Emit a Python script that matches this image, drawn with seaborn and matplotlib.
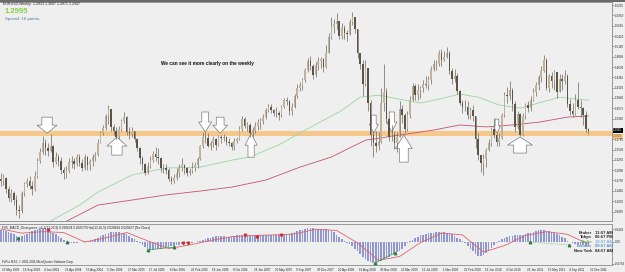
import matplotlib
matplotlib.use("Agg")
import matplotlib.pyplot as plt
import matplotlib.dates as mdates
from matplotlib.patches import Polygon, Rectangle
import pandas as pd
import seaborn as sns

# ---- values (drawn as two-week bars) ----
first_bar = "2003-05-18"
first_open = 1.178

bar_close = [
    1.172, 1.180, 1.150, 1.128, 1.140, 1.124, 1.098, 1.094, 1.140, 1.165,
    1.172, 1.160, 1.150, 1.185, 1.224, 1.245, 1.270, 1.255, 1.248, 1.262,
    1.220, 1.232, 1.222, 1.200, 1.192, 1.198, 1.220, 1.222, 1.214, 1.232,
    1.218, 1.205, 1.232, 1.212, 1.222, 1.232, 1.238, 1.270, 1.294, 1.306,
    1.338, 1.356, 1.310, 1.300, 1.285, 1.305, 1.325, 1.335, 1.298, 1.292,
    1.300, 1.280, 1.255, 1.230, 1.215, 1.192, 1.210, 1.225, 1.240, 1.232,
    1.230, 1.205, 1.206, 1.200, 1.178, 1.172, 1.180, 1.192, 1.206, 1.212,
    1.205, 1.192, 1.198, 1.205, 1.212, 1.228, 1.260, 1.285, 1.282, 1.262,
    1.268, 1.280, 1.265, 1.284, 1.282, 1.285, 1.272, 1.268, 1.258, 1.275,
    1.280, 1.305, 1.330, 1.312, 1.316, 1.294, 1.302, 1.312, 1.322, 1.325,
    1.335, 1.352, 1.362, 1.352, 1.345, 1.345, 1.340, 1.360, 1.380, 1.375,
    1.350, 1.362, 1.390, 1.410, 1.418, 1.430, 1.455, 1.478, 1.465, 1.442,
    1.468, 1.478, 1.484, 1.462, 1.500, 1.540, 1.565, 1.572, 1.580, 1.542,
    1.562, 1.550, 1.548, 1.578, 1.590, 1.560, 1.500, 1.470, 1.420, 1.460,
    1.372, 1.290, 1.270, 1.262, 1.272, 1.370, 1.400, 1.330, 1.285, 1.290,
    1.268, 1.285, 1.356, 1.340, 1.305, 1.340, 1.380, 1.415, 1.392, 1.405,
    1.410, 1.420, 1.418, 1.430, 1.458, 1.470, 1.470, 1.500, 1.480, 1.490,
    1.500, 1.452, 1.432, 1.440, 1.402, 1.370, 1.360, 1.362, 1.340, 1.352,
    1.338, 1.280, 1.238, 1.218, 1.228, 1.252, 1.270, 1.305, 1.290, 1.272,
    1.282, 1.340, 1.392, 1.390, 1.404, 1.368, 1.310, 1.342, 1.290, 1.338,
    1.365, 1.358, 1.378, 1.400, 1.418, 1.438, 1.452, 1.482, 1.410, 1.440,
    1.428, 1.450, 1.400, 1.432, 1.428, 1.440, 1.368, 1.350, 1.342, 1.380,
    1.360, 1.358, 1.340, 1.304, 1.2995,
]
bar_high = [
    1.193, 1.190, 1.183, 1.158, 1.150, 1.145, 1.135, 1.110, 1.146, 1.170,
    1.180, 1.185, 1.172, 1.196, 1.230, 1.256, 1.288, 1.278, 1.270, 1.293,
    1.265, 1.245, 1.240, 1.232, 1.208, 1.210, 1.230, 1.235, 1.230, 1.240,
    1.242, 1.228, 1.240, 1.236, 1.228, 1.240, 1.246, 1.280, 1.300, 1.315,
    1.343, 1.367, 1.357, 1.318, 1.310, 1.312, 1.330, 1.348, 1.338, 1.310,
    1.310, 1.300, 1.282, 1.258, 1.235, 1.218, 1.220, 1.235, 1.248, 1.258,
    1.255, 1.232, 1.215, 1.215, 1.205, 1.185, 1.190, 1.204, 1.216, 1.230,
    1.215, 1.208, 1.205, 1.220, 1.220, 1.234, 1.265, 1.297, 1.298, 1.295,
    1.275, 1.287, 1.282, 1.290, 1.290, 1.292, 1.288, 1.282, 1.272, 1.282,
    1.285, 1.312, 1.337, 1.336, 1.322, 1.320, 1.310, 1.322, 1.330, 1.332,
    1.342, 1.358, 1.368, 1.368, 1.355, 1.360, 1.350, 1.366, 1.385, 1.386,
    1.380, 1.372, 1.395, 1.420, 1.426, 1.435, 1.460, 1.485, 1.492, 1.472,
    1.476, 1.490, 1.490, 1.485, 1.520, 1.550, 1.590, 1.585, 1.601, 1.582,
    1.575, 1.570, 1.558, 1.585, 1.604, 1.590, 1.560, 1.500, 1.480, 1.480,
    1.460, 1.380, 1.300, 1.300, 1.298, 1.410, 1.472, 1.410, 1.335, 1.315,
    1.300, 1.298, 1.375, 1.365, 1.345, 1.350, 1.390, 1.423, 1.420, 1.420,
    1.415, 1.430, 1.440, 1.440, 1.466, 1.480, 1.480, 1.506, 1.508, 1.505,
    1.514, 1.505, 1.460, 1.458, 1.448, 1.405, 1.380, 1.378, 1.375, 1.360,
    1.365, 1.338, 1.295, 1.238, 1.240, 1.255, 1.280, 1.310, 1.333, 1.295,
    1.295, 1.345, 1.400, 1.412, 1.428, 1.410, 1.375, 1.350, 1.345, 1.345,
    1.372, 1.375, 1.388, 1.410, 1.425, 1.442, 1.465, 1.494, 1.485, 1.446,
    1.450, 1.455, 1.450, 1.446, 1.445, 1.455, 1.446, 1.382, 1.370, 1.395,
    1.425, 1.380, 1.362, 1.350, 1.307,
]
bar_low = [
    1.160, 1.162, 1.140, 1.120, 1.118, 1.110, 1.084, 1.077, 1.090, 1.134,
    1.156, 1.152, 1.136, 1.146, 1.180, 1.217, 1.240, 1.238, 1.235, 1.245,
    1.208, 1.215, 1.210, 1.190, 1.176, 1.180, 1.192, 1.205, 1.202, 1.210,
    1.210, 1.196, 1.200, 1.200, 1.200, 1.210, 1.222, 1.236, 1.268, 1.290,
    1.302, 1.318, 1.300, 1.290, 1.278, 1.280, 1.300, 1.320, 1.290, 1.279,
    1.285, 1.272, 1.248, 1.215, 1.200, 1.186, 1.190, 1.204, 1.220, 1.222,
    1.215, 1.195, 1.191, 1.190, 1.172, 1.164, 1.166, 1.175, 1.182, 1.198,
    1.190, 1.185, 1.186, 1.192, 1.198, 1.204, 1.225, 1.256, 1.270, 1.258,
    1.250, 1.258, 1.252, 1.262, 1.270, 1.275, 1.264, 1.262, 1.250, 1.252,
    1.268, 1.276, 1.300, 1.306, 1.300, 1.285, 1.284, 1.295, 1.302, 1.305,
    1.318, 1.330, 1.348, 1.345, 1.338, 1.335, 1.327, 1.336, 1.358, 1.365,
    1.340, 1.340, 1.358, 1.385, 1.402, 1.405, 1.425, 1.450, 1.455, 1.432,
    1.438, 1.455, 1.460, 1.450, 1.460, 1.498, 1.535, 1.550, 1.560, 1.535,
    1.535, 1.535, 1.530, 1.545, 1.570, 1.550, 1.485, 1.458, 1.390, 1.415,
    1.350, 1.260, 1.233, 1.245, 1.252, 1.270, 1.350, 1.320, 1.275, 1.275,
    1.253, 1.246, 1.285, 1.320, 1.295, 1.300, 1.332, 1.375, 1.380, 1.380,
    1.385, 1.400, 1.410, 1.405, 1.420, 1.452, 1.455, 1.465, 1.465, 1.478,
    1.485, 1.445, 1.420, 1.424, 1.395, 1.365, 1.345, 1.350, 1.330, 1.331,
    1.325, 1.255, 1.226, 1.195, 1.188, 1.208, 1.248, 1.262, 1.282, 1.262,
    1.262, 1.278, 1.335, 1.372, 1.378, 1.350, 1.297, 1.305, 1.287, 1.287,
    1.330, 1.348, 1.350, 1.375, 1.390, 1.405, 1.425, 1.450, 1.404, 1.400,
    1.410, 1.405, 1.384, 1.400, 1.404, 1.420, 1.360, 1.340, 1.336, 1.340,
    1.355, 1.335, 1.315, 1.296, 1.292,
]

# moving averages (bar index -> value), read at a few points along each curve
ma_fast_bar = [14, 20, 30, 37, 50, 63, 76, 88, 95, 106, 114, 121, 129, 137,
               144, 152, 160, 167, 175, 182, 190, 198, 205, 213, 224]
ma_fast = [1.045, 1.073, 1.110, 1.143, 1.187, 1.205, 1.207, 1.225, 1.233, 1.264,
           1.294, 1.320, 1.348, 1.386, 1.391, 1.381, 1.371, 1.381, 1.394, 1.386,
           1.366, 1.358, 1.371, 1.386, 1.378]
ma_slow_bar = [22, 26, 37, 50, 63, 76, 88, 101, 114, 126, 139, 152, 165, 175,
               185, 195, 205, 216, 224]
ma_slow = [1.060, 1.072, 1.110, 1.123, 1.136, 1.146, 1.156, 1.174, 1.207, 1.233,
           1.276, 1.289, 1.302, 1.315, 1.310, 1.315, 1.322, 1.335, 1.338]

# MACD histogram, one value per bar
macd_main = [
    0.041, 0.039, 0.037, 0.034, 0.031, 0.026, 0.020, 0.017, 0.019, 0.023,
    0.027, 0.032, 0.036, 0.039, 0.042, 0.045, 0.047, 0.046, 0.043, 0.038,
    0.032, 0.026, 0.020, 0.014, 0.006, 0.001, -0.002, -0.003, -0.003, -0.002,
    0.000, 0.001, 0.002, 0.003, 0.005, 0.008, 0.011, 0.015, 0.019, 0.024,
    0.028, 0.031, 0.033, 0.034, 0.034, 0.033, 0.032, 0.030, 0.027, 0.021,
    0.014, 0.009, 0.004, -0.004, -0.011, -0.018, -0.024, -0.027, -0.027, -0.025,
    -0.024, -0.022, -0.020, -0.018, -0.017, -0.015, -0.013, -0.011, -0.010, -0.008,
    -0.007, -0.005, -0.004, -0.002, 0.000, 0.002, 0.004, 0.007, 0.010, 0.013,
    0.015, 0.017, 0.019, 0.020, 0.020, 0.019, 0.018, 0.017, 0.018, 0.020,
    0.022, 0.024, 0.024, 0.022, 0.021, 0.020, 0.021, 0.022, 0.023, 0.024,
    0.024, 0.024, 0.024, 0.024, 0.024, 0.024, 0.025, 0.025, 0.026, 0.026,
    0.027, 0.029, 0.033, 0.036, 0.039, 0.042, 0.045, 0.046, 0.047, 0.046,
    0.045, 0.044, 0.044, 0.044, 0.044, 0.042, 0.038, 0.033, 0.025, 0.017,
    0.009, 0.002, -0.002, -0.008, -0.015, -0.022, -0.030, -0.040, -0.050, -0.058,
    -0.064, -0.068, -0.071, -0.071, -0.068, -0.064, -0.059, -0.054, -0.049, -0.044,
    -0.039, -0.035, -0.030, -0.022, -0.014, -0.005, 0.002, 0.008, 0.013, 0.018,
    0.022, 0.025, 0.027, 0.029, 0.031, 0.032, 0.033, 0.034, 0.034, 0.033,
    0.032, 0.030, 0.026, 0.020, 0.015, 0.010, 0.004, -0.004, -0.012, -0.022,
    -0.031, -0.040, -0.046, -0.048, -0.044, -0.037, -0.030, -0.020, -0.010, -0.002,
    0.004, 0.009, 0.013, 0.016, 0.019, 0.021, 0.023, 0.024, 0.024, 0.025,
    0.027, 0.029, 0.031, 0.034, 0.038, 0.040, 0.041, 0.040, 0.038, 0.036,
    0.033, 0.030, 0.027, 0.024, 0.018, 0.012, 0.005, 0.000, -0.004, -0.007,
    -0.009, -0.010, -0.011, -0.013, -0.014,
]
signal_bar = [0, 8, 16, 24, 32, 40, 48, 56, 64, 72, 80, 88, 96, 104, 112,
              120, 128, 136, 144, 152, 160, 168, 176, 184, 192, 200, 208, 216, 224]
signal = [0.044, 0.030, 0.035, 0.032, 0.000, 0.014, 0.032, 0.004, -0.022, -0.010,
          0.005, 0.018, 0.022, 0.024, 0.027, 0.043, 0.039, -0.003, -0.062, -0.049,
          -0.002, 0.030, 0.024, -0.034, -0.012, 0.022, 0.035, 0.026, -0.007]

# divergence marks in the MACD window
div_red_date = ["2004-01-25", "2006-01-15", "2006-02-12", "2006-12-10", "2007-02-11", "2007-06-24"]
div_red_val = [0.041, -0.003, -0.003, 0.024, 0.017, 0.024]
div_green_date = ["2003-08-18", "2004-05-03", "2005-07-10", "2005-11-26",
                  "2008-11-03", "2009-02-18", "2011-02-07", "2011-09-08"]
div_green_val = [0.014, 0.000, -0.027, -0.017, -0.071, -0.037, 0.000, -0.010]

# horizontal support / resistance zone and last price
zone_low, zone_high = 1.2880, 1.2990
last_price = 1.2995

# hand drawn arrows: date and price of the tip
arrow_down_date = ["2004-01-20", "2006-05-13", "2006-08-01", "2008-10-29", "2009-02-02", "2010-08-17"]
arrow_down_tip = [1.294, 1.297, 1.294, 1.294, 1.297, 1.294]
arrow_up_date = ["2005-01-27", "2007-01-13", "2009-04-07", "2010-12-18"]
arrow_up_tip = [1.284, 1.294, 1.289, 1.284]

price_ticks = [1.6215, 1.5950, 1.5685, 1.5420, 1.5160, 1.4895, 1.4630, 1.4365, 1.4100,
               1.3840, 1.3575, 1.3310, 1.2785, 1.2520, 1.2255, 1.1990, 1.1730, 1.1465,
               1.1200, 1.0935]
date_ticks = ["2003-05-25", "2003-09-14", "2004-01-04", "2004-04-25", "2004-08-15",
              "2004-12-05", "2005-03-27", "2005-07-17", "2005-11-06", "2006-02-26",
              "2006-06-18", "2006-10-08", "2007-01-28", "2007-05-20", "2007-09-09",
              "2007-12-30", "2008-04-20", "2008-08-10", "2008-11-30", "2009-03-22",
              "2009-07-12", "2009-11-01", "2010-02-21", "2010-06-13", "2010-10-03",
              "2011-01-23", "2011-05-15", "2011-09-04", "2011-12-25"]

clock_names = ["Broker", "Tokyo", "Berlin", "London", "New York"]
clock_times = ["11:57 AM", "06:57 PM", "10:57 AM", "09:57 AM", "04:57 AM"]

# ---- drawing ----
sns.set_style("white")
plt.rcParams["font.family"] = ["Liberation Sans", "DejaVu Sans"]

W, H = 625, 272
BG = "#efefef"
fig = plt.figure(figsize=(W / 100, H / 100), dpi=100, facecolor=BG)


def fx(x):
    return x / W


def fy(y):
    return 1 - y / H


ax = fig.add_axes([0, fy(221), fx(612), (221 - 2) / H], facecolor=BG)
ax2 = fig.add_axes([0, fy(265), fx(612), (265 - 224) / H], facecolor=BG)

dates = pd.date_range(first_bar, periods=len(bar_close), freq="14D")
xd = mdates.date2num(dates)
df = pd.DataFrame({"x": xd, "close": bar_close, "high": bar_high, "low": bar_low})
df["open"] = [first_open] + bar_close[:-1]
up = df["close"] >= df["open"]

x_lo = mdates.date2num(pd.Timestamp("2003-05-14"))
x_hi = mdates.date2num(pd.Timestamp("2012-04-22"))
ax.set_xlim(x_lo, x_hi)
ax.set_ylim(1.0694, 1.6294)
ax2.set_xlim(x_lo, x_hi)
ax2.set_ylim(-0.0777, 0.0608)

ax.axhspan(zone_low, zone_high, color="#f6c47f", alpha=0.9, lw=0, zorder=1)

sns.lineplot(x=xd[ma_fast_bar], y=ma_fast, ax=ax, color="#98d4a4", lw=0.6, zorder=2)
sns.lineplot(x=xd[ma_slow_bar], y=ma_slow, ax=ax, color="#c4526e", lw=0.6, zorder=2)


def arrow(when, tip, length, width, down):
    x0 = mdates.date2num(pd.Timestamp(when))
    days_px = (x_hi - x_lo) / (ax.get_position().width * W)
    y0, y1 = ax.get_ylim()
    price_px = (y1 - y0) / (ax.get_position().height * H)
    s = 1 if down else -1
    head = length * 0.5
    shaft = width * 0.52
    pts = [(0, 0), (width / 2, head), (shaft / 2, head), (shaft / 2, length),
           (-shaft / 2, length), (-shaft / 2, head), (-width / 2, head)]
    verts = [(x0 + dx * days_px, tip + s * dy * price_px) for dx, dy in pts]
    ax.add_patch(Polygon(verts, closed=True, fc="white", ec="#7a7a7a", lw=0.5, zorder=2.5))


down_len = [16, 20, 16, 18, 20, 14]
down_wid = [20, 13, 15, 9, 10, 7]
for d, p, l, w in zip(arrow_down_date, arrow_down_tip, down_len, down_wid):
    arrow(d, p, l, w, True)
up_len = [18, 24, 27, 16]
up_wid = [20, 12, 17, 25]
for d, p, l, w in zip(arrow_up_date, arrow_up_tip, up_len, up_wid):
    arrow(d, p, l, w, False)

# candles
ax.vlines(df["x"], df["low"], df["high"], color="#77726b", lw=0.55, zorder=3)
ax.bar(df["x"][up], (df["close"] - df["open"])[up], bottom=df["open"][up],
       width=8, color="#bfb39c", lw=0, zorder=4)
ax.bar(df["x"][~up], (df["open"] - df["close"])[~up], bottom=df["close"][~up],
       width=8, color="#5d5448", lw=0, zorder=4)

# MACD window
ax2.bar(xd, macd_main, width=8.5, color="#8e97cf", lw=0, zorder=2)
sns.lineplot(x=xd[signal_bar], y=signal, ax=ax2, color="#e0606a", lw=0.6, zorder=3)
rd = mdates.date2num(pd.to_datetime(div_red_date))
ax2.plot(rd, div_red_val, "v", ms=1.8, color="#d42a2a", zorder=4)
gd = mdates.date2num(pd.to_datetime(div_green_date))
ax2.plot(gd, div_green_val, "^", ms=1.8, color="#2f7d3a", zorder=4)
for a, b, ls in [(2, 3, "-"), (4, 5, "-"), (6, 7, ":")]:
    ax2.plot([gd[a], gd[b]], [div_green_val[a], div_green_val[b]], ls=ls,
             color="#3aa04a", lw=0.5, zorder=4)

# axes cosmetics
for a in (ax, ax2):
    for side, sp in a.spines.items():
        sp.set_color("#8a8a8a")
        sp.set_linewidth(0.6)
    a.spines["left"].set_visible(False)
    a.yaxis.tick_right()
    a.tick_params(axis="y", length=1.5, width=0.4, pad=0.3, labelsize=2.2,
                  color="#555555", labelcolor="#222222")

ax.set_xticks([])
ax.set_yticks(price_ticks)
ax.set_yticklabels([f"{v:.4f}" for v in price_ticks])

ax2.set_yticks([0.0428, 0.0, -0.0743])
ax2.set_yticklabels(["0.0428", "0.00", "-0.0743"])
ax2.set_xticks(mdates.date2num(pd.to_datetime(date_ticks)))
ax2.set_xticklabels([pd.Timestamp(d).strftime("%d %b %Y").lstrip("0") for d in date_ticks],
                    ha="left")
ax2.tick_params(axis="x", length=2, width=0.4, pad=0.5, labelsize=2.2,
                color="#555555", labelcolor="#222222")

# last price label on the price scale
blend = ax.get_yaxis_transform()
ax.text(1.002, zone_low - 0.002, f"{zone_low + 0.005:.4f}", transform=blend, fontsize=2.2,
        color="#7a5a20", va="center", ha="left", clip_on=False, zorder=0,
        bbox=dict(boxstyle="square,pad=0.12", fc="#f6c47f", ec="none"))
ax.text(1.002, last_price + 0.002, f"{last_price:.4f}", transform=blend, fontsize=2.2,
        color="white", va="center", ha="left", clip_on=False,
        bbox=dict(boxstyle="square,pad=0.12", fc="black", ec="none"))

# window frame on top
fig.patches.append(Rectangle((0, fy(1.5)), 1, 1.5 / H, transform=fig.transFigure,
                             fc="#6a6a6a", ec="none"))

fig.text(fx(3), fy(4.5), "EURUSD,Weekly  1.2933 1.3007 1.2871 1.2947",
         fontsize=2.6, color="#222222", va="center")
fig.text(fx(5), fy(11.5), f"{last_price:.4f}", fontsize=5.5, fontweight="bold",
         color="#86d23c", va="center")
fig.text(fx(5), fy(19), "Spread: 16 points.", fontsize=3.2, color="#5b7aa6", va="center")
fig.text(fx(161), fy(64), "We can see it more clearly on the weekly", fontsize=3.4,
         fontweight="bold", color="#111111", va="center")
fig.text(fx(2), fy(227.5),
         "FX5_MACD_Divergence_v1.1(12,26,9) 0.020634 0.020570 Hist(12,26,9) 0.020684 0.020457 [No Class]",
         fontsize=2.3, color="#222222", va="center")
fig.text(fx(2), fy(262.5), "FxPro MT4, \u00a9 2001-2011 MetaQuotes Software Corp.",
         fontsize=2.2, color="#222222", va="center")

name_cols = ["#222222", "#222222", "#5dbb63", "#5b8fd0", "#222222"]
time_cols = ["#222222", "#222222", "#7fb0e0", "#5b8fd0", "#222222"]
for k, (n, t) in enumerate(zip(clock_names, clock_times)):
    yy = 233 + 4.4 * k
    fig.text(fx(592), fy(yy), n, fontsize=3.0, fontweight="bold", color=name_cols[k],
             ha="right", va="center")
    fig.text(fx(595), fy(yy), t, fontsize=3.0, fontweight="bold", color=time_cols[k],
             ha="left", va="center")

fig.savefig("out.png", dpi=100, facecolor=BG)
